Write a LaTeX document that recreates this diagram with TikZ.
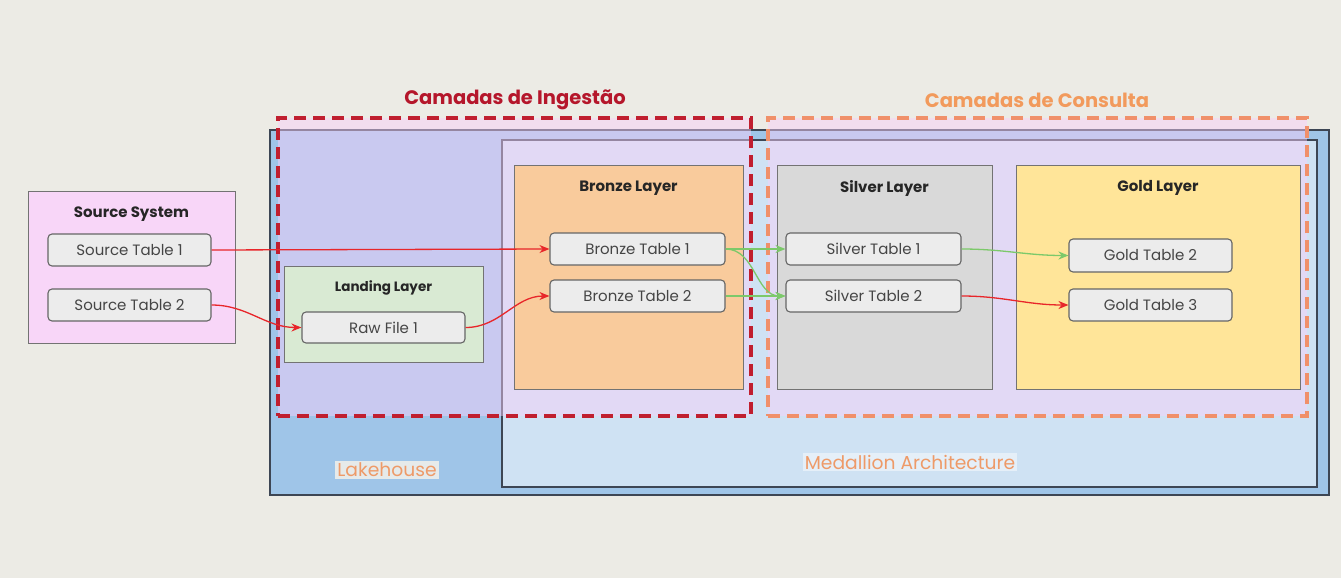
\documentclass[tikz,border=0pt]{standalone}
\usepackage{fontspec}
\setmainfont{Poppins}
\usetikzlibrary{arrows.meta}
\definecolor{bgc}{HTML}{ECEBE5}
\definecolor{lakec}{HTML}{9FC5E8}
\definecolor{medc}{HTML}{CFE2F3}
\definecolor{borderc}{HTML}{3D4654}
\definecolor{overc}{HTML}{F9CFF9}
\definecolor{srcc}{HTML}{F8D6F8}
\definecolor{landc}{HTML}{D9EAD3}
\definecolor{bronzec}{HTML}{F9CB9C}
\definecolor{silverc}{HTML}{D9D9D9}
\definecolor{goldc}{HTML}{FFE599}
\definecolor{tabc}{HTML}{ECECEC}
\definecolor{tabborder}{HTML}{666666}
\definecolor{ingc}{HTML}{B5162B}
\definecolor{ingdash}{HTML}{C01F2F}
\definecolor{conc}{HTML}{F29A5C}
\definecolor{condash}{HTML}{F0906A}
\definecolor{labc}{HTML}{EE9A68}
\definecolor{redarr}{HTML}{E8262A}
\definecolor{greenarr}{HTML}{7CC96A}
\definecolor{txtc}{HTML}{454545}
\tikzset{
  tablebox/.style={draw=tabborder, fill=tabc, rounded corners=4pt, line width=1.1pt,
    minimum height=32pt, text=txtc, font=\fontsize{15}{17}\selectfont, inner sep=0pt},
  layerbox/.style={draw=black!55, line width=1pt, inner sep=0pt},
  layertitle/.style={font=\fontsize{15}{17}\bfseries\selectfont, text=black!85},
  bigbox/.style={draw=borderc, line width=1.8pt, inner sep=0pt},
  overbox/.style={fill=overc, fill opacity=0.47, line width=3.2pt, dash pattern=on 12pt off 7pt, inner sep=0pt},
  redflow/.style={draw=redarr, line width=1.3pt, -{Stealth[length=10pt,width=8pt]}},
  greenflow/.style={draw=greenarr, line width=1.3pt, -{Stealth[length=10pt,width=8pt]}},
  biglabel/.style={font=\fontsize{18.7}{22}\selectfont, text=labc, inner sep=2pt},
  headtitle/.style={font=\fontsize{19.5}{22}\bfseries\selectfont}
}
\begin{document}
\begin{tikzpicture}[x=1pt,y=-1pt]
\useasboundingbox[fill=bgc] (0,0) rectangle (1341,578);
% big containers
\node[bigbox, fill=lakec, minimum width=1059pt, minimum height=365pt] (lake) at (799.5,312.5) {};
\node[bigbox, fill=medc, minimum width=815pt, minimum height=347pt] (med) at (909.5,313.5) {};
% overlays
\node[overbox, draw=ingdash, minimum width=473pt, minimum height=298pt] (ing) at (514.5,267) {};
\node[overbox, draw=condash, minimum width=539pt, minimum height=298pt] (con) at (1037.5,267) {};
\node[headtitle, text=ingc] (ingt) at (515,100) {Camadas de Ingestão};
\node[headtitle, text=conc] (cont) at (1037,100) {Camadas de Consulta};
% labels
\node[biglabel, fill=white!60!lakec!30!bgc] (lakel) at (387,470) {Lakehouse};
\node[biglabel, fill=white!45!medc] (medl) at (910,462) {Medallion Architecture};
% source system
\node[layerbox, fill=srcc, minimum width=207pt, minimum height=152pt] (src) at (131.5,267) {};
\node[layertitle] (srct) at (131.5,214) {Source System};
\node[tablebox, minimum width=163pt] (s1) at (129.5,250) {Source Table 1};
\node[tablebox, minimum width=163pt] (s2) at (129.5,305) {Source Table 2};
% landing
\node[layerbox, fill=landc, minimum width=199pt, minimum height=96pt] (land) at (383.5,314) {};
\node[layertitle, font=\fontsize{13.5}{15}\bfseries\selectfont] (landt) at (383.5,288) {Landing Layer};
\node[tablebox, minimum width=163pt, minimum height=31pt] (raw) at (383.5,327.5) {Raw File 1};
% bronze
\node[layerbox, fill=bronzec, minimum width=229pt, minimum height=224pt] (bronze) at (628.5,277) {};
\node[layertitle] (bronzet) at (628.5,188) {Bronze Layer};
\node[tablebox, minimum width=175pt] (b1) at (637.5,249) {Bronze Table 1};
\node[tablebox, minimum width=175pt] (b2) at (637.5,296) {Bronze Table 2};
% silver
\node[layerbox, fill=silverc, minimum width=215pt, minimum height=224pt] (silver) at (884.5,277) {};
\node[layertitle] (silvert) at (884.5,188) {Silver Layer};
\node[tablebox, minimum width=175pt] (sv1) at (873.5,249) {Silver Table 1};
\node[tablebox, minimum width=175pt] (sv2) at (873.5,296) {Silver Table 2};
% gold
\node[layerbox, fill=goldc, minimum width=284pt, minimum height=224pt] (gold) at (1158,277) {};
\node[layertitle] (goldt) at (1158,188) {Gold Layer};
\node[tablebox, minimum width=163pt, minimum height=33pt] (g2) at (1150.5,255.5) {Gold Table 2};
\node[tablebox, minimum width=163pt] (g3) at (1150.5,305) {Gold Table 3};
% flows
\draw[redflow] (s1.east) -- (b1.west);
\draw[redflow] (s2.east) to[out=0,in=180] (raw.west);
\draw[redflow] (raw.east) to[out=0,in=180] (b2.west);
\draw[greenflow] (b1.east) -- (sv1.west);
\draw[greenflow] (b1.east) to[out=0,in=180] (sv2.west);
\draw[greenflow] (b2.east) -- (sv2.west);
\draw[greenflow] (sv1.east) to[out=0,in=180] (g2.west);
\draw[redflow] (sv2.east) to[out=0,in=180] (g3.west);
\end{tikzpicture}
\end{document}
